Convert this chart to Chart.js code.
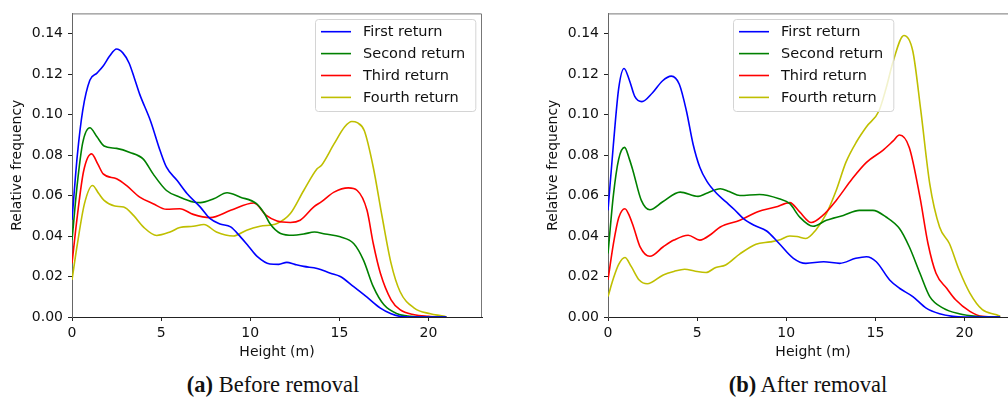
<!DOCTYPE html>
<html>
<head>
<meta charset="utf-8">
<script src="https://cdn.jsdelivr.net/npm/chart.js@4.4.1/dist/chart.umd.min.js"></script>
<style>
  html, body { margin: 0; padding: 0; background: #fff; }
  body { width: 1008px; height: 398px; overflow: hidden; position: relative; }
  canvas { position: absolute; top: 0; }
  #chartA { left: 0; }
  #chartB { left: 536px; }
  .cap { position: absolute; top: 372px; font-family: "Liberation Serif", "DejaVu Serif", serif; font-size: 22.5px; color: #111; white-space: nowrap; transform: translateX(-50%); }
</style>
</head>
<body>
<canvas id="chartA" width="500" height="370"></canvas>
<canvas id="chartB" width="500" height="370"></canvas>
<div class="cap" style="left:273px"><b>(a)</b> Before removal</div>
<div class="cap" style="left:808px"><b>(b)</b> After removal</div>
<script>
// labels + tick values
const seriesNames = ["First return", "Second return", "Third return", "Fourth return"];
const seriesColors = ["#0000ff", "#008000", "#ff0000", "#bfbf00"];
const xTicks = [0, 5, 10, 15, 20];
const yTicks = [0, 0.02, 0.04, 0.06, 0.08, 0.10, 0.12, 0.14];

// (a) before removal : [height, relative frequency]
const firstBefore = [[0,0.048],[0.3,0.080],[0.6,0.102],[1.0,0.117],[1.4,0.1205],[1.75,0.124],[2.1,0.1288],[2.5,0.1324],[2.85,0.1305],[3.2,0.1255],[3.5,0.118],[3.8,0.110],[4.4,0.097],[4.95,0.082],[5.3,0.074],[5.9,0.0674],[6.45,0.061],[7.2,0.0543],[7.75,0.0486],[8.3,0.046],[8.9,0.0445],[9.45,0.0396],[9.9,0.035],[10.4,0.0298],[11.1,0.0262],[11.6,0.026],[12.05,0.027],[12.5,0.026],[13.0,0.025],[13.75,0.024],[14.5,0.0216],[15.05,0.020],[15.8,0.015],[16.55,0.0098],[17.3,0.0044],[17.9,0.0016],[18.4,0.0003],[19,0],[21,0]];
const secondBefore = [[0,0.038],[0.3,0.066],[0.6,0.086],[1.0,0.0935],[1.4,0.089],[1.8,0.0845],[2.5,0.0833],[3.25,0.0813],[4.0,0.078],[4.55,0.0707],[5.3,0.0625],[6.05,0.0592],[6.8,0.0568],[7.2,0.0565],[7.95,0.0584],[8.7,0.0614],[9.45,0.0592],[10.35,0.056],[10.8,0.051],[11.1,0.0462],[11.7,0.0413],[12.4,0.0404],[13.0,0.041],[13.6,0.042],[14.2,0.041],[15.05,0.0396],[15.8,0.0363],[16.35,0.0281],[16.9,0.015],[17.5,0.006],[18.25,0.0016],[19,0.0003],[19.5,0],[21,0]];
const thirdBefore = [[0,0.0265],[0.3,0.050],[0.65,0.072],[1.1,0.0806],[1.45,0.0755],[1.75,0.0707],[2.5,0.0683],[3.05,0.065],[3.8,0.0592],[4.55,0.056],[5.3,0.0532],[6.05,0.0535],[6.8,0.0507],[7.75,0.0491],[8.9,0.0527],[10.2,0.0563],[10.9,0.0502],[11.5,0.0474],[12.25,0.0467],[12.8,0.0478],[13.55,0.0543],[14.0,0.057],[14.7,0.0617],[15.5,0.0638],[16.0,0.0625],[16.55,0.0527],[16.9,0.0363],[17.3,0.0216],[17.9,0.0085],[18.4,0.0036],[19.2,0.0011],[20.0,0.0003],[20.5,0],[21,0]];
const fourthBefore = [[0,0.0183],[0.3,0.036],[0.7,0.056],[1.15,0.065],[1.5,0.061],[1.8,0.0576],[2.4,0.0548],[2.9,0.0543],[3.45,0.0502],[4.0,0.0445],[4.75,0.0403],[5.5,0.042],[6.05,0.0442],[6.8,0.0448],[7.4,0.0457],[8.1,0.042],[9.05,0.040],[9.8,0.0429],[10.55,0.0448],[11.5,0.0462],[12.25,0.0511],[13.0,0.0625],[13.75,0.0732],[14.0,0.075],[14.7,0.0855],[15.3,0.094],[15.7,0.0966],[16.0,0.096],[16.4,0.092],[16.9,0.074],[17.4,0.0494],[17.9,0.0265],[18.4,0.0126],[19.2,0.0044],[20.1,0.0016],[20.9,0.0003],[21,0]];

// (b) after removal
const firstAfter = [[0,0.0527],[0.3,0.085],[0.6,0.113],[0.9,0.1228],[1.2,0.117],[1.5,0.109],[1.9,0.1064],[2.5,0.1108],[3.05,0.1166],[3.55,0.119],[4.0,0.115],[4.4,0.1018],[4.77,0.0855],[5.15,0.074],[5.55,0.067],[6.1,0.061],[6.6,0.057],[7.1,0.053],[7.6,0.0486],[8.2,0.0453],[8.9,0.0425],[9.6,0.0363],[10.4,0.029],[11.1,0.0265],[12.1,0.0273],[13.0,0.0265],[13.9,0.029],[14.5,0.0298],[15.05,0.0273],[15.8,0.0183],[16.35,0.0142],[17.1,0.0101],[17.85,0.0044],[18.6,0.0016],[19.35,0.0003],[20,0],[22,0]];
const secondAfter = [[0,0.0314],[0.3,0.060],[0.6,0.078],[0.93,0.0838],[1.2,0.078],[1.4,0.0723],[1.87,0.0576],[2.35,0.053],[3.05,0.0568],[4.05,0.0617],[5.05,0.0596],[5.5,0.061],[6.3,0.0634],[6.8,0.062],[7.4,0.060],[8.5,0.0605],[9.6,0.0584],[10.2,0.056],[10.75,0.0494],[11.5,0.0448],[12.25,0.0478],[13.2,0.0502],[14.1,0.0527],[14.86,0.0527],[15.6,0.0494],[16.35,0.0437],[16.9,0.0347],[17.5,0.0216],[18.05,0.0101],[18.8,0.0044],[19.7,0.0016],[20.65,0.0003],[21.5,0],[22,0]];
const thirdAfter = [[0,0.0183],[0.3,0.036],[0.6,0.049],[0.95,0.0535],[1.2,0.050],[1.45,0.044],[1.8,0.0347],[2.35,0.030],[3.1,0.0347],[3.7,0.038],[4.5,0.0404],[5.15,0.038],[5.8,0.041],[6.3,0.0445],[7.4,0.0478],[8.4,0.052],[9.4,0.0543],[10.2,0.0565],[10.75,0.0519],[11.4,0.0467],[12.05,0.0502],[12.8,0.0576],[13.7,0.0683],[14.5,0.0764],[15.4,0.0822],[16.0,0.087],[16.35,0.0899],[16.9,0.0838],[17.5,0.0592],[17.95,0.0363],[18.4,0.0216],[19.0,0.0142],[19.5,0.0085],[20.3,0.0028],[21.0,0.0003],[22,0]];
const fourthAfter = [[0,0.0101],[0.3,0.019],[0.6,0.026],[0.95,0.0294],[1.3,0.025],[1.75,0.0183],[2.2,0.0164],[3.1,0.0208],[3.7,0.0225],[4.3,0.0236],[4.9,0.0226],[5.5,0.022],[6.05,0.0245],[6.6,0.0257],[7.4,0.0312],[8.3,0.036],[9.1,0.0371],[9.6,0.038],[10.2,0.040],[10.6,0.0398],[11.1,0.0388],[11.65,0.0429],[12.25,0.0511],[12.8,0.0625],[13.35,0.0765],[13.95,0.0867],[14.5,0.094],[15.2,0.1018],[15.6,0.113],[16.0,0.1264],[16.6,0.1391],[17.1,0.1313],[17.55,0.1018],[18.05,0.0658],[18.6,0.0445],[19.15,0.0363],[19.7,0.0232],[20.3,0.0118],[21.0,0.0036],[21.8,0.0011],[22,0.0003]];

const FONT = '"DejaVu Sans", sans-serif';

// matplotlib style legend box + top/right spines
const boxPlugin = {
    id: 'legendBox',
    afterDraw(chart, args, opts) {
        const ctx = chart.ctx;
        const a = chart.chartArea;
        ctx.save();
        ctx.strokeStyle = '#777';
        ctx.lineWidth = 1;
        ctx.beginPath();
        ctx.moveTo(a.left, a.top + 0.5);
        ctx.lineTo(a.right - 0.5, a.top + 0.5);
        ctx.lineTo(a.right - 0.5, a.bottom);
        ctx.stroke();

        ctx.font = '14.5px ' + FONT;
        const sets = chart.data.datasets;
        let w = 0;
        sets.forEach(d => { w = Math.max(w, ctx.measureText(d.label).width); });
        const x = opts.x, y = opts.y, bw = 48 + w + 10, bh = 92;
        ctx.beginPath();
        ctx.roundRect(x + 0.5, y + 0.5, bw, bh, 3);
        ctx.fillStyle = 'rgba(255,255,255,0.8)';
        ctx.fill();
        ctx.strokeStyle = '#d4d4d4';
        ctx.stroke();
        sets.forEach((d, i) => {
            const cy = y + 12.7 + i * 21.9;
            ctx.strokeStyle = d.borderColor;
            ctx.lineWidth = 1.6;
            ctx.beginPath();
            ctx.moveTo(x + 6, cy);
            ctx.lineTo(x + 36, cy);
            ctx.stroke();
            ctx.fillStyle = '#111';
            ctx.textBaseline = 'middle';
            ctx.fillText(d.label, x + 48, cy + 1);
        });
        ctx.restore();
    }
};

function makeChart(id, series, legendX) {
    return new Chart(document.getElementById(id), {
        type: 'line',
        data: {
            datasets: series.map((s, i) => ({
                label: seriesNames[i],
                data: s.map(p => ({ x: p[0], y: p[1] })),
                borderColor: seriesColors[i],
                borderWidth: 1.6,
                pointRadius: 0,
                fill: false,
                cubicInterpolationMode: 'monotone'
            }))
        },
        options: {
            responsive: false,
            animation: false,
            devicePixelRatio: 1,
            layout: { padding: { left: 0, top: 12, right: 18, bottom: 0 } },
            plugins: {
                legend: { display: false },
                tooltip: { enabled: false },
                legendBox: { x: legendX, y: 19 }
            },
            scales: {
                x: {
                    type: 'linear',
                    min: 0,
                    max: 23,
                    afterFit: s => { s.height = 53; },
                    afterBuildTicks: s => { s.ticks = xTicks.map(v => ({ value: v })); },
                    ticks: { font: { family: FONT, size: 14 }, color: '#111', padding: 4, maxRotation: 0, includeBounds: false, callback: v => String(v) },
                    grid: { drawOnChartArea: false, drawTicks: true, tickLength: 4, color: '#222' },
                    border: { display: true, color: '#222', width: 1 },
                    title: { display: true, text: 'Height (m)', font: { family: FONT, size: 14 }, color: '#111', padding: { top: 0, bottom: 9 } }
                },
                y: {
                    type: 'linear',
                    min: 0,
                    max: 0.15,
                    afterFit: s => { s.width = 72; },
                    afterBuildTicks: s => { s.ticks = yTicks.map(v => ({ value: v })); },
                    ticks: { font: { family: FONT, size: 14 }, color: '#111', padding: 5, includeBounds: false, callback: v => v.toFixed(2) },
                    grid: { drawOnChartArea: false, drawTicks: true, tickLength: 4, color: '#222' },
                    border: { display: true, color: '#666', width: 1 },
                    title: { display: true, text: 'Relative frequency', font: { family: FONT, size: 14 }, color: '#111', padding: { top: 9, bottom: 0 } }
                }
            }
        },
        plugins: [boxPlugin]
    });
}

makeChart('chartA', [firstBefore, secondBefore, thirdBefore, fourthBefore], 315);
makeChart('chartB', [firstAfter, secondAfter, thirdAfter, fourthAfter], 197);
</script>
</body>
</html>
